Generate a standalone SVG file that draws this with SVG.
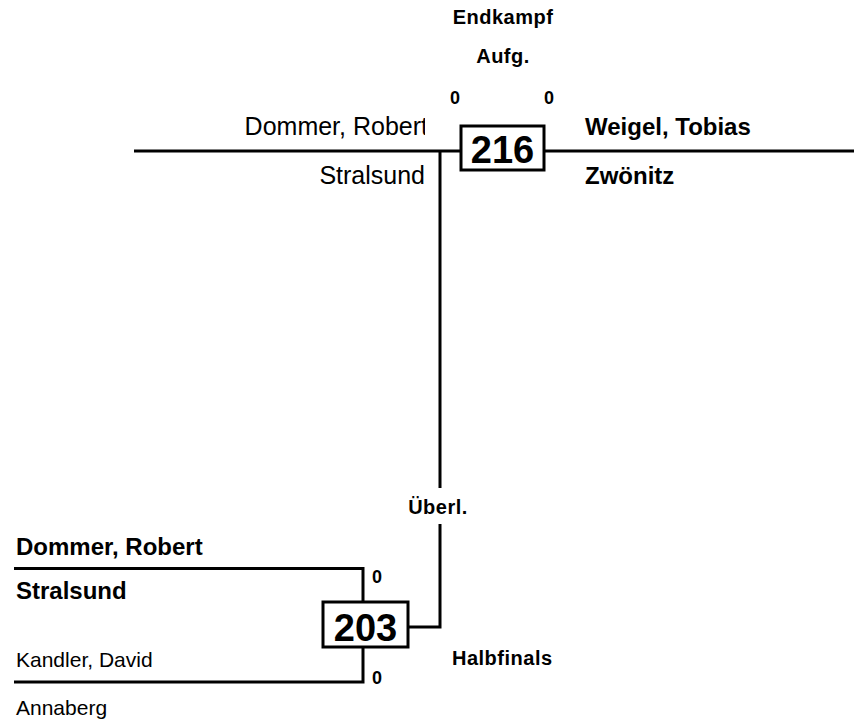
<svg xmlns="http://www.w3.org/2000/svg" width="854" height="724" viewBox="0 0 854 724">
<style>
text{font-family:"Liberation Sans",Arial,sans-serif;fill:#000}
.nm{font-size:24px}
.lg{font-size:25px}
.sm{font-size:21px}
.b{font-weight:bold}
.lbl{font-size:20px;font-weight:bold;letter-spacing:0.5px}
.sc{font-size:18px;font-weight:bold}
.num{font-size:38px;font-weight:bold;text-anchor:middle}
.ln{stroke:#000;stroke-width:3;fill:none}
.box{stroke:#000;stroke-width:3;fill:#fff}
</style>
<defs>
<clipPath id="clipL"><rect x="0" y="100" width="425" height="50"/></clipPath>
</defs>
<rect width="854" height="724" fill="#fff"/>
<g id="connectors">
<path class="ln" d="M134,151 H854"/>
<path class="ln" d="M440,151 V488 M440,524 V627 H408"/>
<path class="ln" d="M14,568.5 H363 V602 M14,682 H363 V647"/>
</g>
<g id="match216">
<text class="lbl" x="503" y="24" text-anchor="middle">Endkampf</text>
<text class="lbl" x="503" y="63" text-anchor="middle">Aufg.</text>
<text class="sc" x="455" y="104" text-anchor="middle">0</text>
<text class="sc" x="549" y="104" text-anchor="middle">0</text>
<rect class="box" x="461" y="126" width="83" height="44"/>
<text class="num" x="502.5" y="163">216</text>
</g>
<g id="player-dommer-top">
<text class="lg" x="428" y="135" text-anchor="end" clip-path="url(#clipL)">Dommer, Robert</text>
<text class="lg" x="425" y="184" text-anchor="end">Stralsund</text>
</g>
<g id="player-weigel">
<text class="nm b" x="585" y="135">Weigel, Tobias</text>
<text class="nm b" x="585" y="184">Zwönitz</text>
</g>
<g id="label-ueberl">
<text class="lbl" x="438" y="514" text-anchor="middle">Überl.</text>
</g>
<g id="match203">
<rect class="box" x="323" y="602" width="85" height="45"/>
<text class="num" x="365.5" y="641">203</text>
<text class="sc" x="372" y="583">0</text>
<text class="sc" x="372" y="684">0</text>
<text class="lbl" x="452" y="665">Halbfinals</text>
</g>
<g id="player-dommer-bottom">
<text class="nm b" x="16" y="555">Dommer, Robert</text>
<text class="nm b" x="16" y="599">Stralsund</text>
</g>
<g id="player-kandler">
<text class="sm" x="16" y="667">Kandler, David</text>
<text class="sm" x="16" y="715">Annaberg</text>
</g>
</svg>
